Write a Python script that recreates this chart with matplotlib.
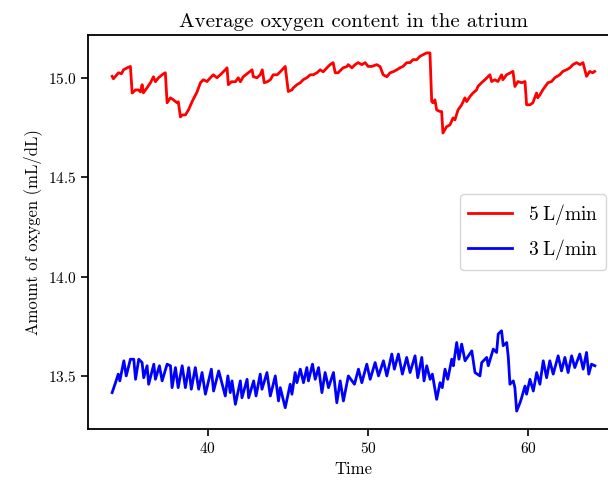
import numpy as np
import matplotlib
matplotlib.use("Agg")
import matplotlib.pyplot as plt

plt.rcParams['font.family'] = 'serif'
plt.rcParams['font.serif'] = ['cmr10']
plt.rcParams['mathtext.fontset'] = 'cm'
plt.rcParams['axes.formatter.use_mathtext'] = True

# 5 L/min series (time, oxygen content)
t_red = [34.04, 34.12, 34.44, 34.62, 34.75, 34.98, 35.18, 35.29, 35.50, 35.68, 35.81, 35.91,
         35.99, 36.22, 36.43, 36.62, 36.74, 36.93, 37.24, 37.36, 37.47, 37.68, 37.86, 38.09,
         38.17, 38.30, 38.42, 38.61, 38.80, 39.03, 39.34, 39.55, 39.73, 39.96, 40.17, 40.35,
         40.58, 40.79, 41.10, 41.21, 41.29, 41.48, 41.73, 41.91, 42.04, 42.22, 42.54, 42.77,
         42.85, 43.08, 43.28, 43.41, 43.53, 43.72, 43.91, 44.09, 44.34, 44.53, 44.84, 45.03,
         45.26, 45.34, 45.57, 45.78, 45.96, 46.19, 46.40, 46.59, 46.82, 47.02, 47.21, 47.44,
         47.64, 47.83, 47.96, 48.14, 48.45, 48.68, 48.77, 49.00, 49.20, 49.39, 49.62, 49.83,
         50.01, 50.24, 50.55, 50.76, 50.95, 51.18, 51.38, 51.57, 51.80, 52.00, 52.19, 52.42,
         52.63, 52.81, 53.04, 53.25, 53.44, 53.67, 53.87, 53.98, 54.06, 54.18, 54.29, 54.50,
         54.60, 54.68, 54.91, 55.12, 55.31, 55.43, 55.62, 55.85, 56.05, 56.16, 56.37, 56.55,
         56.78, 56.86, 57.09, 57.30, 57.61, 57.72, 57.92, 58.11, 58.34, 58.42, 58.65, 58.86,
         59.05, 59.17, 59.36, 59.59, 59.80, 59.90, 60.11, 60.29, 60.52, 60.60, 60.73, 60.91,
         61.23, 61.46, 61.66, 61.97, 62.16, 62.39, 62.60, 62.79, 63.02, 63.23, 63.42, 63.64,
         63.84, 64.02, 64.15]
o2_red = [15.007, 14.995, 15.025, 15.020, 15.040, 15.050, 15.057, 14.923, 14.939, 14.939, 14.929, 14.965,
          14.924, 14.950, 14.975, 15.005, 14.980, 15.000, 15.020, 15.025, 14.874, 14.899, 14.889, 14.874,
          14.879, 14.803, 14.813, 14.813, 14.838, 14.880, 14.929, 14.975, 14.990, 14.981, 15.000, 15.015,
          15.000, 15.015, 15.040, 15.050, 14.965, 14.980, 14.980, 15.000, 14.980, 15.005, 15.025, 15.040,
          15.005, 15.000, 15.015, 15.040, 14.975, 14.980, 14.990, 15.015, 15.015, 15.030, 15.057, 14.931,
          14.939, 14.949, 14.965, 14.975, 14.990, 15.000, 15.015, 15.015, 15.025, 15.040, 15.030, 15.050,
          15.066, 15.076, 15.025, 15.025, 15.050, 15.056, 15.066, 15.050, 15.066, 15.076, 15.066, 15.076,
          15.057, 15.057, 15.066, 15.056, 15.015, 15.005, 15.025, 15.030, 15.040, 15.050, 15.057, 15.076,
          15.076, 15.091, 15.091, 15.108, 15.116, 15.125, 15.125, 14.880, 14.874, 14.889, 14.838, 14.830,
          14.830, 14.722, 14.754, 14.763, 14.798, 14.788, 14.838, 14.864, 14.899, 14.880, 14.906, 14.923,
          14.939, 14.956, 14.975, 14.990, 15.015, 14.981, 14.990, 14.981, 15.015, 14.990, 15.015, 15.024,
          15.032, 14.956, 14.981, 14.975, 14.981, 14.864, 14.864, 14.874, 14.923, 14.899, 14.914, 14.939,
          14.975, 14.981, 15.000, 15.015, 15.032, 15.040, 15.050, 15.066, 15.076, 15.066, 15.076, 15.007,
          15.032, 15.025, 15.032]

# 3 L/min series (time, oxygen content)
t_blue = [34.04, 34.25, 34.42, 34.52, 34.77, 34.92, 35.18, 35.39, 35.50, 35.70, 35.91, 36.01,
          36.22, 36.32, 36.64, 36.74, 36.99, 37.16, 37.47, 37.68, 37.78, 37.99, 38.16, 38.41,
          38.61, 38.82, 38.98, 39.23, 39.44, 39.65, 39.86, 40.23, 40.37, 40.69, 41.10, 41.26,
          41.41, 41.52, 41.73, 42.04, 42.14, 42.46, 42.56, 42.87, 43.02, 43.28, 43.39, 43.70,
          43.91, 44.22, 44.42, 44.53, 44.84, 45.15, 45.26, 45.46, 45.57, 45.78, 45.98, 46.19,
          46.29, 46.54, 46.71, 46.92, 47.13, 47.33, 47.54, 47.85, 48.06, 48.27, 48.47, 48.78,
          49.16, 49.41, 49.62, 49.93, 50.14, 50.45, 50.66, 50.97, 51.18, 51.49, 51.65, 51.90,
          52.15, 52.42, 52.63, 52.94, 53.11, 53.36, 53.50, 53.67, 53.88, 54.02, 54.29, 54.50,
          54.64, 54.81, 54.98, 55.23, 55.33, 55.54, 55.68, 55.85, 56.06, 56.48, 56.68, 56.99,
          57.10, 57.41, 57.51, 57.82, 58.03, 58.13, 58.34, 58.44, 58.66, 58.76, 58.86, 59.07,
          59.17, 59.28, 59.49, 59.59, 59.80, 59.90, 60.11, 60.32, 60.53, 60.73, 60.94, 61.15,
          61.35, 61.56, 61.87, 62.08, 62.29, 62.49, 62.71, 62.91, 63.22, 63.43, 63.64, 63.78,
          63.95, 64.16]
o2_blue = [13.416, 13.466, 13.509, 13.475, 13.576, 13.500, 13.584, 13.584, 13.483, 13.584, 13.567, 13.491,
           13.551, 13.458, 13.559, 13.483, 13.551, 13.475, 13.559, 13.551, 13.441, 13.542, 13.441, 13.551,
           13.441, 13.542, 13.433, 13.542, 13.433, 13.517, 13.408, 13.534, 13.424, 13.525, 13.399, 13.500,
           13.416, 13.475, 13.357, 13.475, 13.390, 13.483, 13.390, 13.475, 13.399, 13.509, 13.433, 13.517,
           13.399, 13.500, 13.374, 13.441, 13.340, 13.458, 13.408, 13.517, 13.466, 13.534, 13.466, 13.542,
           13.475, 13.559, 13.483, 13.542, 13.416, 13.517, 13.441, 13.517, 13.365, 13.475, 13.374, 13.500,
           13.458, 13.534, 13.466, 13.559, 13.483, 13.567, 13.500, 13.576, 13.500, 13.610, 13.534, 13.610,
           13.509, 13.593, 13.517, 13.601, 13.491, 13.593, 13.475, 13.551, 13.483, 13.509, 13.382, 13.466,
           13.441, 13.534, 13.483, 13.584, 13.551, 13.668, 13.584, 13.660, 13.576, 13.626, 13.517, 13.500,
           13.567, 13.593, 13.551, 13.635, 13.618, 13.711, 13.727, 13.652, 13.668, 13.593, 13.458, 13.475,
           13.441, 13.323, 13.365, 13.390, 13.449, 13.408, 13.483, 13.424, 13.517, 13.458, 13.576, 13.491,
           13.576, 13.509, 13.601, 13.525, 13.593, 13.517, 13.601, 13.542, 13.610, 13.534, 13.618, 13.509,
           13.559, 13.551]

fig = plt.figure(figsize=(6.08, 4.83), dpi=100)
ax = fig.add_axes([88 / 608, 54 / 483, 531 / 608, 394 / 483])

ax.plot(t_red, o2_red, color='red', lw=2.0, label=r'$5\;\mathrm{L/min}$')
ax.plot(t_blue, o2_blue, color='blue', lw=2.0, label=r'$3\;\mathrm{L/min}$')

ax.set_xticks([40, 50, 60])
ax.set_yticks([13.5, 14.0, 14.5, 15.0])
ax.tick_params(labelsize=11, width=1.2, length=5)
for sp in ax.spines.values():
    sp.set_linewidth(1.3)

ax.set_title('Average oxygen content in the atrium', fontsize=15)
ax.set_xlabel('Time', fontsize=12)
ax.set_ylabel('Amount of oxygen (mL/dL)', fontsize=12)

ax.legend(loc='center right', bbox_to_anchor=(606 / 608, 251 / 483),
          bbox_transform=fig.transFigure, borderaxespad=0, fontsize=14,
          handlelength=2.3)

fig.savefig('out.png', dpi=100)
